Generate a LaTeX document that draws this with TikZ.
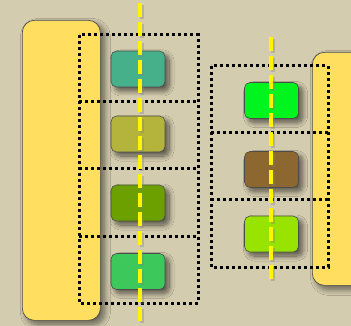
\documentclass[tikz,border=0pt]{standalone}
\usetikzlibrary{shadows.blur}
\definecolor{bg}{RGB}{212,204,175}
\definecolor{bigyel}{RGB}{255,222,96}
\definecolor{cteal}{RGB}{70,176,138}
\definecolor{colive}{RGB}{180,180,60}
\definecolor{cdkgreen}{RGB}{108,160,0}
\definecolor{cgreen}{RGB}{60,200,90}
\definecolor{cbright}{RGB}{0,245,30}
\definecolor{cbrown}{RGB}{140,104,48}
\definecolor{clime}{RGB}{152,228,0}
\definecolor{dashyel}{RGB}{255,245,0}
\tikzset{
  bigbox/.style={draw=black!70,line width=0.7pt,fill=bigyel,rounded corners=12pt,
     blur shadow={shadow xshift=4pt,shadow yshift=-4pt,shadow blur radius=6pt,shadow blur steps=12,shadow opacity=55}},
  smallbox/.style={draw=black!70,line width=0.6pt,rounded corners=5.5pt,minimum width=54pt,minimum height=36pt,inner sep=0pt,
     blur shadow={shadow xshift=4pt,shadow yshift=-4pt,shadow blur radius=5pt,shadow blur steps=12,shadow opacity=60}},
  dotline/.style={draw=black,line width=3pt,dash pattern=on 3pt off 3pt},
  yelline/.style={draw=dashyel,line width=4pt,dash pattern=on 14pt off 5pt},
  yelshadow/.style={draw=black!50,line width=4pt,dash pattern=on 14pt off 5pt,opacity=0.35},
}
\begin{document}
\begin{tikzpicture}[x=1pt,y=-1pt]
\fill[bg] (0,0) rectangle (351,326);
\useasboundingbox (0,0) rectangle (351,326);
% big boxes
\node[bigbox,minimum width=78pt,minimum height=300pt,anchor=north west,inner sep=0pt] (L) at (22,20) {};
\node[bigbox,minimum width=70pt,minimum height=233pt,anchor=north west,inner sep=0pt] (R) at (312,52) {};
% small boxes left
\node[smallbox,fill=cteal] (a1) at (138,69) {};
\node[smallbox,fill=colive] (a2) at (138,134) {};
\node[smallbox,fill=cdkgreen] (a3) at (138,203) {};
\node[smallbox,fill=cgreen] (a4) at (138,271.5) {};
% small boxes right
\node[smallbox,fill=cbright] (b1) at (271.5,100.5) {};
\node[smallbox,fill=cbrown] (b2) at (271.5,169.5) {};
\node[smallbox,fill=clime] (b3) at (271.5,234) {};
% dotted grids
\draw[dotline] (79,35) rectangle (198,303);
\draw[dotline] (79,102) -- (198,102);
\draw[dotline] (79,169) -- (198,169);
\draw[dotline] (79,236) -- (198,236);
\draw[dotline] (211,66) rectangle (328,267);
\draw[dotline] (211,133) -- (328,133);
\draw[dotline] (211,200) -- (328,200);
% yellow dashed lines
\coordinate (t1) at (140,3);
\coordinate (e1) at (140,326);
\coordinate (t2) at (271,37);
\coordinate (e2) at (271,282);
\draw[yelshadow] ([xshift=2pt,yshift=-2pt]t1) -- ([xshift=2pt,yshift=-2pt]e1);
\draw[yelshadow] ([xshift=2pt,yshift=-2pt]t2) -- ([xshift=2pt,yshift=-2pt]e2);
\draw[yelline] (t1) -- (e1);
\draw[yelline] (t2) -- (e2);
\end{tikzpicture}
\end{document}
